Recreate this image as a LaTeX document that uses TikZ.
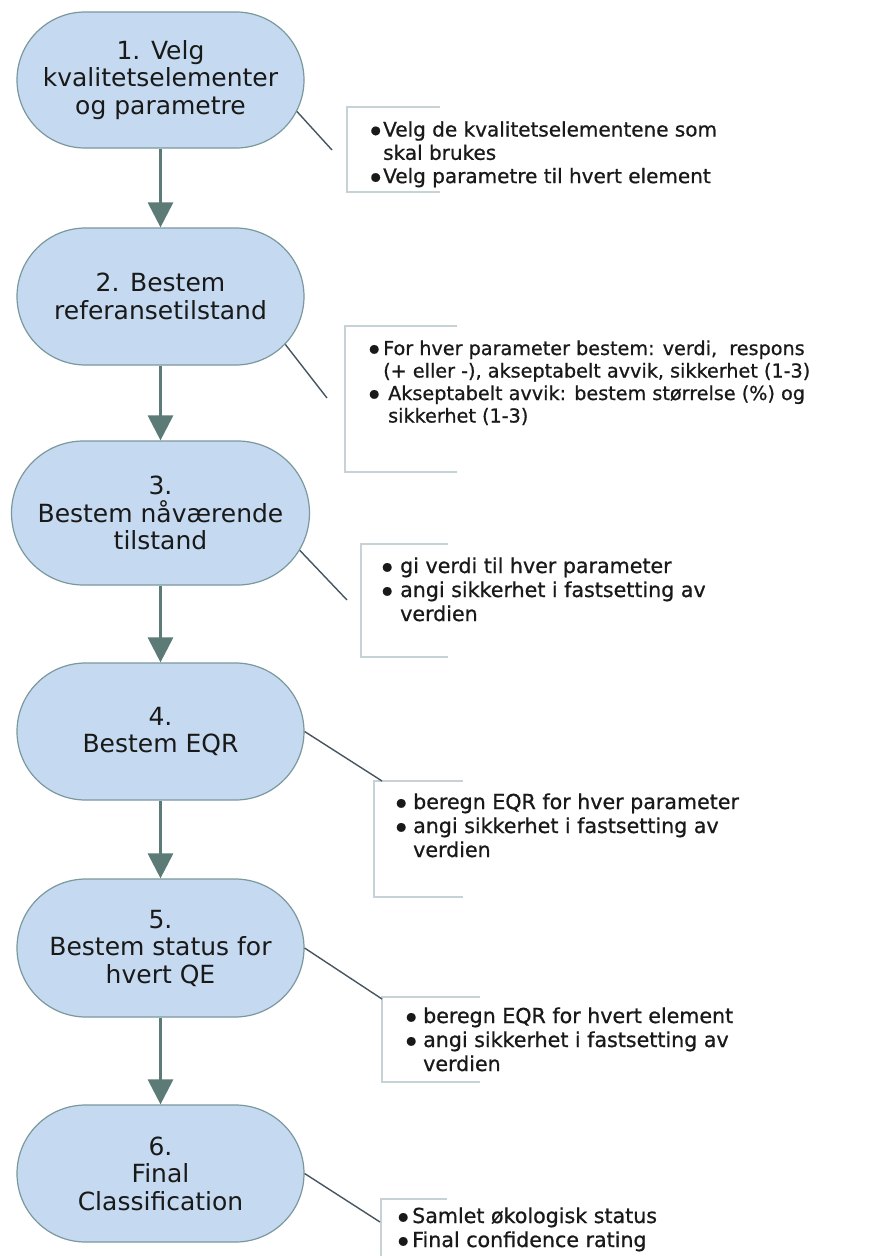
\documentclass[tikz,border=0pt]{standalone}
\usepackage{fontspec}
\setmainfont{DejaVu Sans}
\newfontfamily\notefont{DejaVu Sans}[FakeBold=0.8]
\usetikzlibrary{arrows.meta,shapes.misc}
\definecolor{stepfill}{RGB}{197,218,240}
\definecolor{stepline}{RGB}{122,152,158}
\definecolor{arrowcol}{RGB}{92,122,118}
\definecolor{linkcol}{RGB}{70,85,95}
\definecolor{bracketcol}{RGB}{198,210,214}
\definecolor{txtcol}{RGB}{25,25,25}
% bullet (black circle, small size) in a fixed 18pt cell, right-aligned, with gap #1 before the text
\newcommand\nb[1]{\makebox[18pt][r]{\raisebox{2.6pt}{\fontsize{11.5}{11.5}\selectfont\char"25CF}\hspace{#1}}}
\begin{document}
\begin{tikzpicture}[x=1pt,y=-1pt]
\tikzset{
  stepnode/.style={rounded rectangle, draw=stepline, fill=stepfill, line width=1.2pt,
    align=center, text=txtcol, font=\fontsize{25}{27.5}\selectfont, inner sep=0pt,
    minimum width=287pt, minimum height=137pt},
  flowarrow/.style={draw=arrowcol, line width=3pt, -{Triangle[width=25pt,length=25pt]}},
  linkline/.style={draw=linkcol, line width=1.4pt},
  bracketline/.style={draw=bracketcol, line width=1.6pt},
  notetext/.style={anchor=base west, inner sep=0pt, text=txtcol},
}
\useasboundingbox (0,0) rectangle (881,1256);

% steps
\node[stepnode, minimum height=136pt] (n1) at (160.5,80) {1. Velg\\kvalitetselementer\\og parametre};
\node[stepnode] (n2) at (160.5,296.5) {2. Bestem\\referansetilstand};
\node[stepnode, minimum width=298pt, minimum height=144pt] (n3) at (160.5,513) {3.\\Bestem nåværende\\tilstand};
\node[stepnode] (n4) at (160.5,731.5) {4.\\Bestem EQR};
\node[stepnode, minimum height=138pt] (n5) at (160.5,948) {5.\\Bestem status for\\hvert QE};
\node[stepnode] (n6) at (160.5,1173.5) {6.\\Final\\Classification};

% flow arrows
\draw[flowarrow] (n1.south) -- (n2.north);
\draw[flowarrow] (n2.south) -- (n3.north);
\draw[flowarrow] (n3.south) -- (n4.north);
\draw[flowarrow] (n4.south) -- (n5.north);
\draw[flowarrow] (n5.south) -- (n6.north);

% note brackets
\draw[bracketline] (440,107) -- (347,107) -- (347,192) -- (440,192);
\draw[bracketline] (457,326) -- (345,326) -- (345,472) -- (457,472);
\draw[bracketline] (448,544) -- (361,544) -- (361,657) -- (448,657);
\draw[bracketline] (463,781) -- (374,781) -- (374,897) -- (463,897);
\draw[bracketline] (480,997) -- (382,997) -- (382,1082) -- (480,1082);
\draw[bracketline] (447,1199) -- (381,1199) -- (381,1262);

% link end points
\coordinate (e1) at (332,150);
\coordinate (e2) at (327,398);
\coordinate (e3) at (347,600);
\coordinate (e4) at (382,781);
\coordinate (e5) at (382,999);
\coordinate (e6) at (380,1222);

\draw[linkline] (n1.-13.8) -- (e1);
\draw[linkline] (n2.-21.8) -- (e2);
\draw[linkline] (n3.-15.8) -- (e3);
\draw[linkline] (n4.-0.2) -- (e4);
\draw[linkline] (n5.-0.8) -- (e5);
\draw[linkline] (n6.0) -- (e6);

% note texts (node x = text start - 18pt bullet cell)
\node[notetext, font=\notefont\fontsize{20}{23.3}\selectfont] (t1) at (365,136.5)
 {\begin{tabular}[t]{@{}l@{}l@{}}\nb{2.5pt}&Velg de kvalitetselementene som\\ &skal brukes\\ \nb{2.5pt}&Velg parametre til hvert element\end{tabular}};
\node[notetext, font=\notefont\fontsize{19.2}{22.5}\selectfont] (t2) at (365,355)
 {\begin{tabular}[t]{@{}l@{}l@{}}\nb{4pt}&For hver parameter bestem: verdi,\ \ respons\\ &(+ eller -), akseptabelt avvik, sikkerhet (1-3)\\ \nb{4pt}&\hspace{5pt}Akseptabelt avvik: bestem størrelse (\%) og\\ &\hspace{5pt}sikkerhet (1-3)\end{tabular}};
\node[notetext, font=\notefont\fontsize{20.6}{24}\selectfont] (t3) at (382,573)
 {\begin{tabular}[t]{@{}l@{}l@{}}\nb{8pt}&gi verdi til hver parameter\\ \nb{8pt}&angi sikkerhet i fastsetting av\\ &verdien\end{tabular}};
\node[notetext, font=\notefont\fontsize{20.6}{24}\selectfont] (t4) at (395,809)
 {\begin{tabular}[t]{@{}l@{}l@{}}\nb{7pt}&beregn EQR for hver parameter\\ \nb{7pt}&angi sikkerhet i fastsetting av\\ &verdien\end{tabular}};
\node[notetext, font=\notefont\fontsize{20.6}{24}\selectfont] (t5) at (405,1023)
 {\begin{tabular}[t]{@{}l@{}l@{}}\nb{7pt}&beregn EQR for hvert element\\ \nb{7pt}&angi sikkerhet i fastsetting av\\ &verdien\end{tabular}};
\node[notetext, font=\notefont\fontsize{20.6}{24}\selectfont] (t6) at (394,1223)
 {\begin{tabular}[t]{@{}l@{}l@{}}\nb{4pt}&Samlet økologisk status\\ \nb{4pt}&Final confidence rating\end{tabular}};
\end{tikzpicture}
\end{document}
